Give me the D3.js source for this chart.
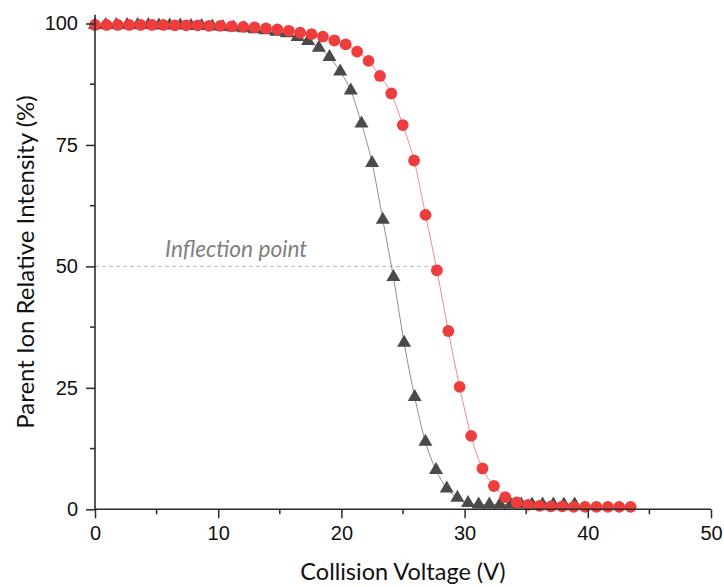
<!DOCTYPE html>
<html>
<head>
<meta charset="utf-8">
<script src="https://cdn.jsdelivr.net/npm/d3@7"></script>
<style>
  html, body { margin: 0; padding: 0; background: #fff; }
  svg { display: block; }
</style>
</head>
<body>
<svg id="chart" width="724" height="587"></svg>
<script>
// ---- Data ----
const xTicks = [0, 10, 20, 30, 40, 50];
const yTicks = [0, 25, 50, 75, 100];
const xTitle = "Collision Voltage (V)";
const yTitle = "Parent Ion Relative Intensity (%)";
const annotationText = "Inflection point";
const inflectionLevel = 50;

// Series A (red circles): collision voltage (V) and relative intensity (%)
const redVoltage = [
  0.0, 0.93, 1.85, 2.78, 3.70, 4.63, 5.55, 6.48, 7.40, 8.33,
  9.25, 10.18, 11.10, 12.03, 12.95, 13.88, 14.80, 15.73, 16.65, 17.58,
  18.50, 19.43, 20.35, 21.28, 22.20, 23.13, 24.05, 24.98, 25.90, 26.83,
  27.75, 28.68, 29.60, 30.53, 31.45, 32.38, 33.30, 34.23, 35.15, 36.08,
  37.00, 37.93, 38.85, 39.78, 40.70, 41.63, 42.55, 43.48
];
const redIntensity = [
  99.7, 99.7, 99.7, 99.7, 99.7, 99.7, 99.7, 99.6, 99.6, 99.6,
  99.5, 99.5, 99.4, 99.3, 99.2, 99.0, 98.8, 98.5, 98.1, 97.8,
  97.3, 96.5, 95.7, 94.2, 92.3, 89.2, 85.6, 79.1, 71.8, 60.6,
  49.2, 36.7, 25.2, 15.1, 8.4, 4.8, 2.5, 1.4, 0.9, 0.7,
  0.6, 0.6, 0.5, 0.5, 0.5, 0.5, 0.5, 0.5
];

// Series B (dark triangles)
const greyVoltage = [
  0.0, 0.865, 1.73, 2.60, 3.46, 4.33, 5.19, 6.06, 6.92, 7.79,
  8.65, 9.52, 10.38, 11.25, 12.11, 12.98, 13.84, 14.71, 15.57, 16.44,
  17.30, 18.17, 19.03, 19.90, 20.76, 21.63, 22.49, 23.36, 24.22, 25.09,
  25.95, 26.82, 27.68, 28.55, 29.41, 30.28, 31.14, 32.01, 32.87, 33.74,
  34.60, 35.47, 36.33, 37.20, 38.06, 38.93
];
const greyIntensity = [
  99.7, 99.7, 99.7, 99.7, 99.7, 99.7, 99.6, 99.6, 99.6, 99.5,
  99.5, 99.4, 99.3, 99.2, 99.0, 98.8, 98.6, 98.3, 98.0, 97.2,
  96.4, 95.0, 93.1, 90.1, 86.2, 79.4, 71.3, 59.6, 47.8, 34.3,
  23.1, 13.9, 8.1, 4.3, 2.4, 1.3, 1.0, 1.0, 1.0, 1.0,
  1.0, 1.0, 1.0, 1.0, 1.0, 1.0
];

const redSeries = redVoltage.map((v, i) => ({x: v, y: redIntensity[i]}));
const greySeries = greyVoltage.map((v, i) => ({x: v, y: greyIntensity[i]}));

// ---- Layout ----
const svg = d3.select("#chart");
const x = d3.scaleLinear().domain([0, 50]).range([95, 711]);
const y = d3.scaleLinear().domain([0, 100]).range([509.3, 23.5]);
const yTop = 101.8;

const axisColor = "#2b2b2b";
const tickFont = "'Liberation Sans', Arial, sans-serif";
const titleFont = "Lato, 'Open Sans', sans-serif";

// Inflection dashed line
svg.append("line")
  .attr("x1", x(0)).attr("x2", x(27.8))
  .attr("y1", y(inflectionLevel)).attr("y2", y(inflectionLevel))
  .attr("stroke", "#b8b8b8").attr("stroke-width", 1)
  .attr("stroke-dasharray", "4,3");

svg.append("text")
  .attr("x", 165).attr("y", 256.5)
  .attr("font-family", titleFont)
  .attr("font-style", "italic")
  .attr("font-size", 22.7)
  .attr("fill", "#7f7f7f")
  .text(annotationText);

// Lines
const line = d3.line().x(d => x(d.x)).y(d => y(d.y)).curve(d3.curveMonotoneX);

svg.append("path").datum(greySeries)
  .attr("d", line).attr("fill", "none")
  .attr("stroke", "#8f8f8f").attr("stroke-width", 1);
svg.append("path").datum(redSeries)
  .attr("d", line).attr("fill", "none")
  .attr("stroke", "#f58a8a").attr("stroke-width", 1);

// Triangle symbol (width 14, height 12, centroid at origin)
const tri = {
  draw(ctx, size) {
    const s = Math.sqrt(size) / 10;
    ctx.moveTo(0, -8 * s);
    ctx.lineTo(7 * s, 4 * s);
    ctx.lineTo(-7 * s, 4 * s);
    ctx.closePath();
  }
};

svg.append("g").selectAll("path")
  .data(greySeries).join("path")
  .attr("transform", d => `translate(${x(d.x)},${y(d.y)})`)
  .attr("d", d3.symbol().type(tri).size(100))
  .attr("fill", "#4a4a4a");

svg.append("g").selectAll("circle")
  .data(redSeries).join("circle")
  .attr("cx", d => x(d.x)).attr("cy", d => y(d.y))
  .attr("r", 5.9)
  .attr("fill", "#ee3d3d");

// ---- Axes ----
const xAxis = d3.axisBottom(x).tickValues(xTicks).tickSize(9).tickPadding(8).tickFormat(d3.format("d"));
const gx = svg.append("g").attr("transform", `translate(0,${y(0)})`).call(xAxis);
gx.select(".domain").attr("d", `M${x(0)},0H${x(50)}`);
gx.selectAll(".tick line").attr("stroke", axisColor).attr("stroke-width", 1.5);
gx.select(".domain").attr("stroke", axisColor).attr("stroke-width", 1.6);
gx.selectAll(".tick text").attr("font-family", tickFont).attr("font-size", 20).attr("fill", "#111");
// minor x ticks
gx.selectAll(".minor").data([5, 15, 25, 35, 45]).join("line")
  .attr("class", "minor")
  .attr("x1", d => x(d)).attr("x2", d => x(d))
  .attr("y1", 0).attr("y2", 5)
  .attr("stroke", axisColor).attr("stroke-width", 1.5);

const yAxis = d3.axisLeft(y).tickValues(yTicks).tickSize(9).tickPadding(8).tickFormat(d3.format("d"));
const gy = svg.append("g").attr("transform", `translate(${x(0)},0)`).call(yAxis);
gy.select(".domain").attr("d", `M0,${y(0)}V${y(yTop)}`);
gy.selectAll(".tick line").attr("stroke", axisColor).attr("stroke-width", 1.5);
gy.select(".domain").attr("stroke", axisColor).attr("stroke-width", 1.6);
gy.selectAll(".tick text").attr("font-family", tickFont).attr("font-size", 20).attr("fill", "#111");
gy.selectAll(".minor").data([12.5, 37.5, 62.5, 87.5]).join("line")
  .attr("class", "minor")
  .attr("y1", d => y(d)).attr("y2", d => y(d))
  .attr("x1", 0).attr("x2", -5)
  .attr("stroke", axisColor).attr("stroke-width", 1.5);

// Titles
svg.append("text")
  .attr("x", (x(0) + x(50)) / 2).attr("y", 580)
  .attr("text-anchor", "middle")
  .attr("font-family", titleFont).attr("font-size", 23.5)
  .attr("fill", "#111")
  .text(xTitle);

svg.append("text")
  .attr("transform", `translate(34,${(y(0) + y(yTop)) / 2}) rotate(-90)`)
  .attr("text-anchor", "middle")
  .attr("font-family", titleFont).attr("font-size", 24)
  .attr("fill", "#111")
  .text(yTitle);
</script>
</body>
</html>
